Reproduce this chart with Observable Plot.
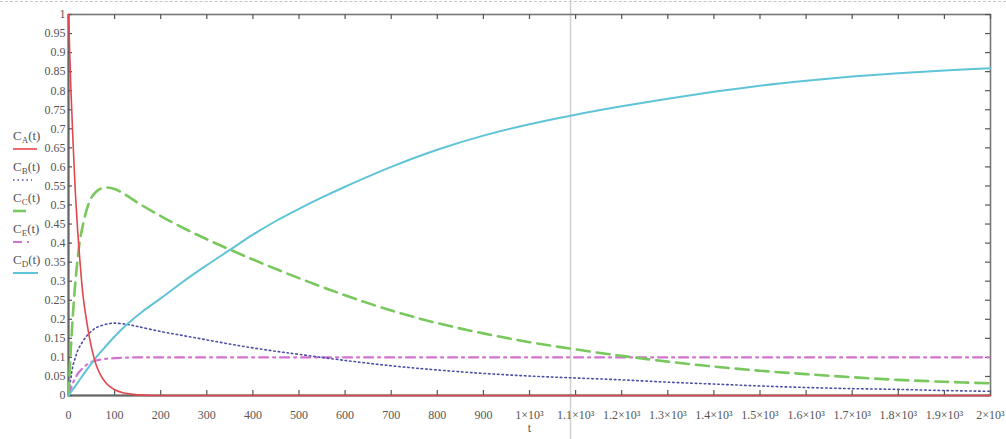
<!DOCTYPE html>
<html>
<head>
<meta charset="utf-8">
<script src="https://cdn.jsdelivr.net/npm/d3@7"></script>
<script src="https://cdn.jsdelivr.net/npm/@observablehq/plot@0.6"></script>
<style>
  body { margin: 0; background: #fff; }
  #wrap { position: relative; width: 1006px; height: 439px; overflow: hidden; }
  #topdash { position: absolute; left: 0; top: 1px; width: 1006px; border-top: 1px dashed #c4c4c4; }
  #legend { position: absolute; left: 0; top: 0; }
</style>
</head>
<body>
<div id="wrap"><div id="topdash"></div></div>
<script>
// ---- data ----
const tA = [0, 5, 10, 15, 20, 25, 30, 40, 50, 60, 70, 80, 90, 100, 120, 140, 160, 180, 2000];
const CA = [1, 0.81, 0.66, 0.53, 0.43, 0.35, 0.28, 0.19, 0.125, 0.08, 0.053, 0.035, 0.023, 0.015, 0.0065, 0.003, 0.001, 0, 0];

const tB = [0, 5, 10, 15, 20, 30, 40, 50, 60, 75, 90, 100, 125, 150, 200, 250, 300, 350, 400, 450, 500, 600, 700, 800, 900, 1000, 1100, 1200, 1300, 1400, 1500, 1600, 1700, 1800, 1900, 2000];
const CB = [0, 0.045, 0.08, 0.1, 0.118, 0.14, 0.157, 0.169, 0.178, 0.185, 0.189, 0.19, 0.187, 0.181, 0.168, 0.157, 0.146, 0.135, 0.125, 0.116, 0.108, 0.092, 0.078, 0.067, 0.058, 0.051, 0.046, 0.041, 0.035, 0.03, 0.025, 0.021, 0.018, 0.016, 0.013, 0.011];

const tC = [0, 5, 10, 15, 20, 25, 30, 40, 50, 60, 70, 85, 100, 125, 150, 200, 250, 300, 350, 400, 450, 500, 550, 600, 700, 800, 900, 1000, 1100, 1200, 1300, 1400, 1500, 1600, 1700, 1800, 1900, 2000];
const CC = [0, 0.12, 0.22, 0.3, 0.36, 0.41, 0.44, 0.49, 0.52, 0.535, 0.543, 0.546, 0.542, 0.526, 0.506, 0.471, 0.439, 0.41, 0.383, 0.357, 0.332, 0.308, 0.285, 0.263, 0.223, 0.19, 0.163, 0.14, 0.121, 0.104, 0.089, 0.076, 0.065, 0.056, 0.048, 0.041, 0.036, 0.032];

const tE = [0, 10, 20, 30, 40, 50, 60, 80, 100, 150, 2000];
const CE = [0, 0.034, 0.057, 0.071, 0.081, 0.088, 0.092, 0.096, 0.098, 0.1, 0.1];

const tD = [0, 20, 40, 60, 80, 100, 130, 160, 200, 250, 300, 350, 400, 450, 500, 550, 600, 700, 800, 900, 1000, 1100, 1200, 1300, 1400, 1500, 1600, 1700, 1800, 1900, 2000];
const CD = [0, 0.034, 0.068, 0.1, 0.128, 0.155, 0.19, 0.22, 0.255, 0.3, 0.342, 0.382, 0.422, 0.458, 0.49, 0.52, 0.548, 0.6, 0.645, 0.682, 0.712, 0.737, 0.759, 0.779, 0.797, 0.813, 0.826, 0.837, 0.846, 0.853, 0.859];

const cursorT = [1089];
const xTicks = d3.range(0, 21).map(i => i * 100);
const yTicks = d3.range(0, 21).map(i => i / 20);
const legendKeys = ["A", "B", "C", "E", "D"];

// ---- styles ----
const styles = {
  A: {stroke: "#e2474d", strokeWidth: 1.6, curve: "monotone-x"},
  B: {stroke: "#4c4ea6", strokeWidth: 1.6, strokeDasharray: "1.5,3", curve: "catmull-rom"},
  C: {stroke: "#78c85e", strokeWidth: 2.6, strokeDasharray: "13,7", curve: "catmull-rom"},
  E: {stroke: "#d472d0", strokeWidth: 2.2, strokeDasharray: "9,5,2,5", curve: "monotone-x"},
  D: {stroke: "#5fc4d7", strokeWidth: 2, curve: "catmull-rom"}
};
const series = {
  A: tA.map((t, i) => ({t, v: CA[i]})),
  B: tB.map((t, i) => ({t, v: CB[i]})),
  C: tC.map((t, i) => ({t, v: CC[i]})),
  E: tE.map((t, i) => ({t, v: CE[i]})),
  D: tD.map((t, i) => ({t, v: CD[i]}))
};

const W = 1006, H = 439, mL = 68, mR = 16, mT = 14, mB = 44;
const pw = W - mL - mR, ph = H - mT - mB;
const fmtX = d => d < 1000 ? String(d) : (+(d / 1000).toFixed(1)) + "×10³";
const fmtY = d => String(+d.toFixed(2));
const tickStroke = "#555";

const chart = Plot.plot({
  width: W, height: H,
  marginLeft: mL, marginRight: mR, marginTop: mT, marginBottom: mB,
  x: {domain: [0, 2000], label: null},
  y: {domain: [0, 1], label: null},
  style: {fontFamily: "'Liberation Serif', 'Times New Roman', serif", fontSize: "12px", color: "#555", background: "transparent"},
  marks: [
    Plot.ruleX(cursorT, {stroke: "#d0d0d0", strokeWidth: 1.5, insetTop: -mT, insetBottom: -mB}),
    Plot.frame({stroke: "#777", strokeWidth: 1.6}),
    Plot.ruleX([0], {stroke: "#666", strokeWidth: 2}),
    Plot.ruleY([0], {stroke: "#666", strokeWidth: 2}),
    Plot.tickY(yTicks, {y: d => d, stroke: tickStroke, strokeWidth: 1.2, insetRight: pw - 4}),
    Plot.tickY(yTicks, {y: d => d, stroke: tickStroke, strokeWidth: 1.2, insetLeft: pw - 5}),
    Plot.tickX(xTicks, {x: d => d, stroke: tickStroke, strokeWidth: 1.2, insetBottom: ph - 5}),
    Plot.tickX(xTicks, {x: d => d, stroke: tickStroke, strokeWidth: 1.2, insetTop: ph - 5}),
    Plot.axisY(yTicks, {tickSize: 0, tickPadding: 3, tickFormat: fmtY, fill: "#555", label: null}),
    Plot.axisX(xTicks, {tickSize: 0, tickPadding: 15, tickFormat: fmtX, fill: "#555", label: null}),
    Plot.text(["t"], {frameAnchor: "bottom", dy: 36, fill: "#555", fontSize: 12}),
    Plot.line(series.E, {x: "t", y: "v", ...styles.E}),
    Plot.line(series.B, {x: "t", y: "v", ...styles.B}),
    Plot.line(series.C, {x: "t", y: "v", ...styles.C}),
    Plot.line(series.D, {x: "t", y: "v", ...styles.D}),
    Plot.line(series.A, {x: "t", y: "v", ...styles.A})
  ]
});
const wrap = document.getElementById("wrap");
wrap.appendChild(chart);

// ---- legend (left side) ----
const lg = d3.select(wrap).append("svg")
  .attr("id", "legend").attr("width", 64).attr("height", 300)
  .style("font-family", "'Liberation Serif', 'Times New Roman', serif");
const sampleLen = {A: 24, B: 19, C: 17, E: 18, D: 25};
legendKeys.forEach((k, i) => {
  const y0 = 140 + i * 31;
  const tx = lg.append("text").attr("x", 13).attr("y", y0).attr("fill", "#555").attr("font-size", 13);
  tx.append("tspan").text("C");
  tx.append("tspan").attr("font-size", 9).attr("dy", 3).text(k);
  tx.append("tspan").attr("dy", -3).text("(t)");
  const s = styles[k];
  lg.append("line").attr("x1", 13).attr("x2", 13 + sampleLen[k])
    .attr("y1", y0 + 9).attr("y2", y0 + 9)
    .attr("stroke", s.stroke).attr("stroke-width", s.strokeWidth)
    .attr("stroke-dasharray", s.strokeDasharray || null);
});
</script>
</body>
</html>
